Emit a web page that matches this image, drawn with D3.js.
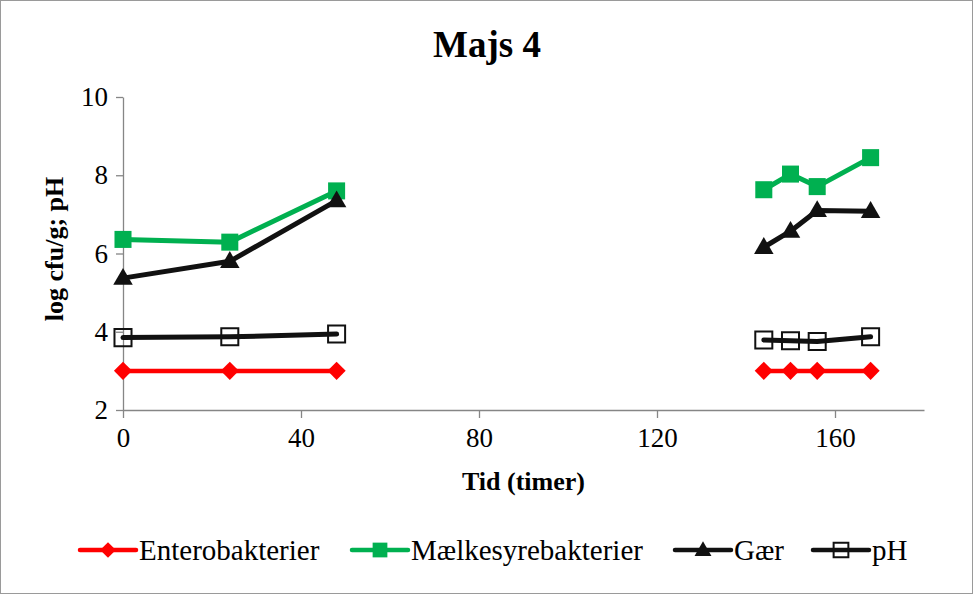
<!DOCTYPE html>
<html>
<head>
<meta charset="utf-8">
<script src="https://cdn.jsdelivr.net/npm/d3@7"></script>
<style>
  body { margin: 0; background: #fff; }
  svg { display: block; font-family: "Liberation Serif", "Times New Roman", serif; }
  .axis path, .axis line { stroke: #868686; stroke-width: 1.3; }
  .axis text { fill: #000; font-size: 27px; font-family: "Liberation Serif", "Times New Roman", serif; }
</style>
</head>
<body>
<script>
// sampling times (hours) and the two measuring runs
var times = [0, 24, 48, 144, 150, 156, 168];
var run = [1, 1, 1, 2, 2, 2, 2];

var entero = [3, 3, 3, 3, 3, 3, 3];
var maelk = [6.36, 6.29, 7.6, 7.63, 8.03, 7.71, 8.45];
var gaer = [5.37, 5.8, 7.35, 6.16, 6.57, 7.1, 7.08];
var ph = [3.85, 3.87, 3.94, 3.79, 3.77, 3.75, 3.87];

var seriesNames = ["Enterobakterier", "Mælkesyrebakterier", "Gær", "pH"];
var xTicks = [0, 40, 80, 120, 160];
var yTicks = [2, 4, 6, 8, 10];

var W = 973, H = 594;
var margin = {top: 97, left: 123, right: 49, bottom: 184};
var width = W - margin.left - margin.right,
    height = H - margin.top - margin.bottom;

var x = d3.scaleLinear().domain([0, 180]).range([0, width]);
var y = d3.scaleLinear().domain([2, 10]).range([height, 0]);

var styles = [
  {color: "#ff0000", marker: "diamond", lw: 4.5},
  {color: "#00b050", marker: "square", lw: 5},
  {color: "#111111", marker: "triangle", lw: 5},
  {color: "#111111", marker: "open", lw: 5}
];
var values = [entero, maelk, gaer, ph];

var svg = d3.select("body").append("svg")
  .attr("width", W)
  .attr("height", H);

svg.append("rect")
  .attr("x", 0.5).attr("y", 0.5)
  .attr("width", W - 1).attr("height", H - 1)
  .attr("fill", "#fff")
  .attr("stroke", "#9a9a9a");

// title
svg.append("text")
  .attr("x", 487).attr("y", 57)
  .attr("text-anchor", "middle")
  .attr("font-size", "37px")
  .attr("font-weight", "bold")
  .text("Majs 4");

var g = svg.append("g")
  .attr("transform", "translate(" + margin.left + "," + margin.top + ")");

// axes
g.append("g")
  .attr("class", "axis")
  .attr("transform", "translate(0," + height + ")")
  .call(d3.axisBottom(x).tickValues(xTicks).tickSize(8).tickPadding(10).tickSizeOuter(0))
  .attr("font-family", null);

g.append("g")
  .attr("class", "axis")
  .call(d3.axisLeft(y).tickValues(yTicks).tickSize(7).tickPadding(8).tickSizeOuter(0))
  .attr("font-family", null);

// axis titles
svg.append("text")
  .attr("x", margin.left + width / 2).attr("y", 490)
  .attr("text-anchor", "middle")
  .attr("font-size", "26px")
  .attr("font-weight", "bold")
  .text("Tid (timer)");

svg.append("text")
  .attr("transform", "translate(63,249) rotate(-90)")
  .attr("text-anchor", "middle")
  .attr("font-size", "26px")
  .attr("font-weight", "bold")
  .text("log cfu/g; pH");

function markerPath(type, scale) {
  if (type === "diamond") return d3.symbol().type(d3.symbolSquare).size(165 * scale)();
  if (type === "triangle") return d3.symbol().type(d3.symbolTriangle).size(165 * scale)();
  return d3.symbol().type(d3.symbolSquare).size(290 * scale)();
}

function drawMarker(sel, st, scale) {
  var p = sel.append("path")
    .attr("d", markerPath(st.marker, scale));
  if (st.marker === "diamond") p.attr("transform", "rotate(45)");
  if (st.marker === "open") {
    p.attr("fill", "none").attr("stroke", st.color).attr("stroke-width", 2);
  } else {
    p.attr("fill", st.color);
  }
  return p;
}

var line = d3.line()
  .x(function(d) { return x(d.t); })
  .y(function(d) { return y(d.v); });

values.forEach(function(vals, i) {
  var st = styles[i];
  var pts = times.map(function(t, j) { return {t: t, v: vals[j], run: run[j]}; });
  var runs = d3.groups(pts, function(d) { return d.run; });

  var sg = g.append("g");
  runs.forEach(function(r) {
    sg.append("path")
      .datum(r[1])
      .attr("fill", "none")
      .attr("stroke", st.color)
      .attr("stroke-width", st.lw)
      .attr("stroke-linejoin", "round")
      .attr("stroke-linecap", "round")
      .attr("d", line);
  });

  pts.forEach(function(d) {
    var mg = sg.append("g")
      .attr("transform", "translate(" + x(d.t) + "," + (y(d.v) + (st.marker === "triangle" ? 1 : 0)) + ")");
    drawMarker(mg, st, 1);
  });
});

// legend
var legendX = [80, 352, 675, 813];
var legend = svg.append("g").attr("transform", "translate(0,550)");
seriesNames.forEach(function(name, i) {
  var st = styles[i];
  var lg = legend.append("g").attr("transform", "translate(" + legendX[i] + ",0)");
  lg.append("line")
    .attr("x1", 0).attr("x2", 56)
    .attr("stroke", st.color)
    .attr("stroke-width", 4.5)
    .attr("stroke-linecap", "round");
  var mg = lg.append("g").attr("transform", "translate(28," + (st.marker === "triangle" ? 1 : 0) + ")");
  drawMarker(mg, st, 0.75);
  lg.append("text")
    .attr("x", 59).attr("y", 10)
    .attr("font-size", "29px")
    .text(name);
});
</script>
</body>
</html>
